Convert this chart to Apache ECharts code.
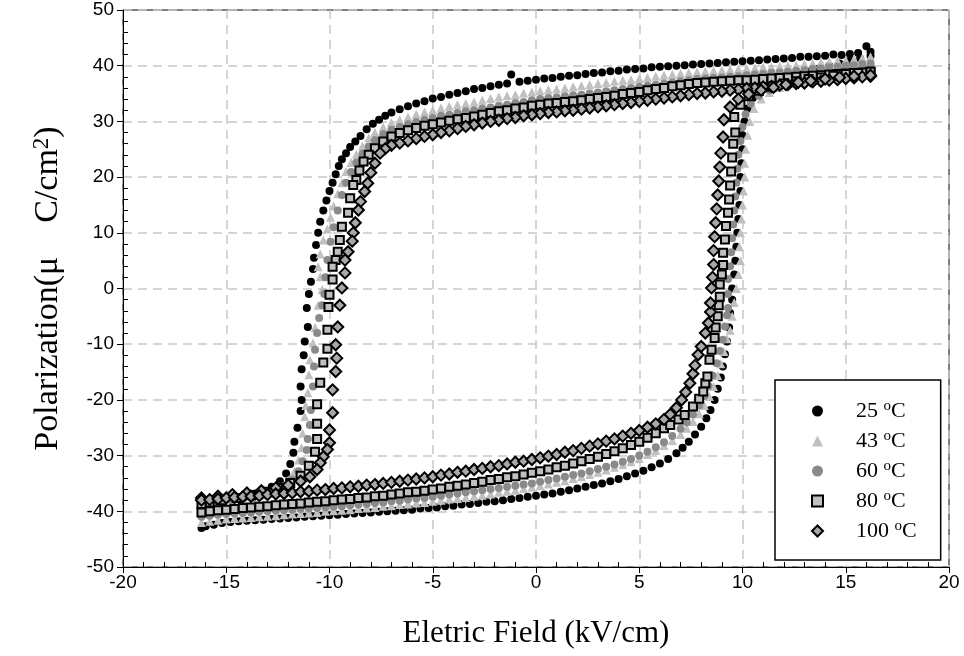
<!DOCTYPE html>
<html>
<head>
<meta charset="utf-8">
<script src="https://cdn.jsdelivr.net/npm/echarts@6/dist/echarts.min.js"></script>
<style>html,body{margin:0;padding:0;background:#fff;}#c{width:964px;height:656px;}</style>
</head>
<body>
<div id="c"></div>
<script>
// ---- data: [E (kV/cm), P (uC/cm2)] ----
const seriesNames = ['25 °C', '43 °C', '60 °C', '80 °C', '100 °C'];
const xTicks = [-20, -15, -10, -5, 0, 5, 10, 15, 20];
const yTicks = [-50, -40, -30, -20, -10, 0, 10, 20, 30, 40, 50];

const up25 = [[16.2,42.5],[16.0,43.5],[15.6,42.3],[15.2,42.1],[14.8,41.9],[14.4,42.0],[14.0,41.8],[13.6,41.7],[13.2,41.6],[12.8,41.6],[12.4,41.4],[12.0,41.3],[11.6,41.2],[11.2,41.1],[10.8,41.0],[10.4,40.9],[10.0,40.8],[9.6,40.7],[9.2,40.6],[8.8,40.5],[8.4,40.4],[8.0,40.3],[7.6,40.2],[7.2,40.1],[6.8,40.0],[6.4,39.9],[6.0,39.8],[5.6,39.7],[5.2,39.5],[4.8,39.4],[4.4,39.3],[4.0,39.1],[3.6,39.0],[3.2,38.8],[2.8,38.7],[2.4,38.5],[2.0,38.3],[1.6,38.2],[1.2,38.0],[0.8,37.8],[0.4,37.7],[0.0,37.5],[-0.4,37.3],[-0.8,37.1],[-1.2,38.4],[-1.4,36.8],[-1.8,36.6],[-2.2,36.3],[-2.6,36.0],[-3.0,35.8],[-3.4,35.4],[-3.8,35.1],[-4.2,34.8],[-4.6,34.4],[-5.0,34.1],[-5.4,33.6],[-5.8,33.2],[-6.2,32.7],[-6.6,32.2],[-7.0,31.6],[-7.3,31.0],[-7.6,30.3],[-7.9,29.6],[-8.2,28.6],[-8.5,27.4],[-8.75,26.4],[-9.0,25.4],[-9.2,24.3],[-9.4,23.2],[-9.55,22.0],[-9.7,20.5],[-9.85,19.0],[-10.0,17.5],[-10.15,15.8],[-10.3,14.0],[-10.45,12.0],[-10.55,10.0],[-10.65,7.8],[-10.75,5.5],[-10.8,3.5],[-10.9,1.2],[-11.0,-1.0],[-11.1,-3.5],[-11.05,-6.9],[-11.2,-9.5],[-11.25,-12.0],[-11.35,-14.5],[-11.4,-17.6],[-11.35,-20.0],[-11.4,-22.0],[-11.55,-25.0],[-11.7,-27.5],[-11.75,-29.5],[-11.9,-31.5],[-12.1,-33.2],[-12.4,-34.6],[-12.8,-35.6],[-13.2,-36.3],[-13.6,-36.8],[-14.0,-37.2],[-14.4,-37.5],[-14.8,-37.8],[-15.2,-38.1],[-15.6,-38.4],[-16.0,-38.6],[-16.2,-38.8]];
const dn25 = [[-16.2,-43.0],[-16.0,-42.7],[-15.6,-42.4],[-15.2,-42.1],[-14.8,-41.9],[-14.4,-41.8],[-14.0,-41.7],[-13.6,-41.6],[-13.2,-41.5],[-12.8,-41.4],[-12.4,-41.3],[-12.0,-41.2],[-11.6,-41.1],[-11.2,-41.0],[-10.8,-40.9],[-10.4,-40.8],[-10.0,-40.7],[-9.6,-40.6],[-9.2,-40.5],[-8.8,-40.4],[-8.4,-40.3],[-8.0,-40.2],[-7.6,-40.1],[-7.2,-40.0],[-6.8,-39.9],[-6.4,-39.8],[-6.0,-39.7],[-5.6,-39.5],[-5.2,-39.4],[-4.8,-39.3],[-4.4,-39.1],[-4.0,-39.0],[-3.6,-38.8],[-3.2,-38.7],[-2.8,-38.5],[-2.4,-38.3],[-2.0,-38.2],[-1.6,-38.0],[-1.2,-37.8],[-0.8,-37.6],[-0.4,-37.4],[0.0,-37.2],[0.4,-37.0],[0.8,-36.8],[1.2,-36.5],[1.6,-36.2],[2.0,-35.9],[2.4,-35.6],[2.8,-35.3],[3.2,-35.0],[3.6,-34.6],[4.0,-34.2],[4.4,-33.7],[4.8,-33.2],[5.2,-32.7],[5.6,-32.1],[6.0,-31.4],[6.4,-30.6],[6.8,-29.6],[7.1,-28.6],[7.4,-27.5],[7.7,-26.2],[8.0,-24.8],[8.25,-23.3],[8.45,-21.8],[8.65,-20.0],[8.8,-18.0],[8.95,-16.0],[9.05,-14.0],[9.15,-11.8],[9.25,-9.5],[9.35,-7.0],[9.4,-4.4],[9.5,-2.0],[9.5,0.0],[9.6,2.5],[9.65,5.0],[9.7,7.5],[9.75,10.0],[9.8,12.5],[9.85,15.0],[9.9,17.5],[9.9,20.0],[9.95,22.5],[10.0,25.0],[10.0,27.5],[10.1,30.0],[10.25,32.3],[10.5,34.2],[10.8,35.5],[11.2,36.5],[11.7,37.3],[12.2,37.9],[12.7,38.5],[13.2,39.0],[13.7,39.5],[14.2,40.0],[14.7,40.4],[15.2,40.9],[15.7,41.3],[16.2,41.8]];

const up43 = [[16.2,41.6],[15.8,41.4],[15.4,41.2],[15.0,41.0],[14.6,40.9],[14.2,40.7],[13.8,40.6],[13.4,40.4],[13.0,40.3],[12.6,40.1],[12.2,40.0],[11.8,39.9],[11.4,39.8],[11.0,39.7],[10.6,39.6],[10.2,39.5],[9.8,39.4],[9.4,39.3],[9.0,39.2],[8.6,39.1],[8.2,39.0],[7.8,38.9],[7.4,38.8],[7.0,38.6],[6.6,38.4],[6.2,38.3],[5.8,38.1],[5.4,37.9],[5.0,37.7],[4.6,37.5],[4.2,37.4],[3.8,37.2],[3.4,37.0],[3.0,36.8],[2.6,36.6],[2.2,36.4],[1.8,36.2],[1.4,36.0],[1.0,35.8],[0.6,35.7],[0.2,35.5],[-0.2,35.3],[-0.6,35.1],[-1.0,34.8],[-1.4,34.6],[-1.8,34.4],[-2.2,34.1],[-2.6,33.8],[-3.0,33.5],[-3.4,33.2],[-3.8,33.0],[-4.2,32.7],[-4.6,32.4],[-5.0,32.0],[-5.4,31.7],[-5.8,31.3],[-6.2,30.8],[-6.6,30.3],[-7.0,29.8],[-7.4,29.0],[-7.8,28.0],[-8.1,27.0],[-8.4,25.6],[-8.7,24.1],[-8.95,22.6],[-9.2,21.0],[-9.4,19.0],[-9.6,17.0],[-9.8,14.8],[-9.95,12.8],[-10.1,10.7],[-10.3,8.7],[-10.45,6.2],[-10.55,3.9],[-10.45,2.1],[-10.35,-0.2],[-10.55,-3.0],[-10.7,-7.0],[-10.8,-9.8],[-10.95,-12.8],[-11.0,-15.5],[-11.05,-18.7],[-11.15,-21.0],[-11.2,-23.0],[-11.3,-26.0],[-11.35,-28.6],[-11.5,-30.8],[-11.7,-32.8],[-12.0,-34.4],[-12.4,-35.6],[-12.8,-36.5],[-13.2,-37.1],[-13.7,-37.6],[-14.2,-38.0],[-14.7,-38.4],[-15.2,-38.8],[-15.7,-39.1],[-16.2,-39.4]];
const dn43 = [[-16.2,-42.0],[-15.8,-41.8],[-15.4,-41.6],[-15.0,-41.4],[-14.6,-41.3],[-14.2,-41.2],[-13.8,-41.1],[-13.4,-41.0],[-13.0,-40.9],[-12.6,-40.8],[-12.2,-40.6],[-11.8,-40.5],[-11.4,-40.4],[-11.0,-40.3],[-10.6,-40.2],[-10.2,-40.0],[-9.8,-39.9],[-9.4,-39.8],[-9.0,-39.7],[-8.6,-39.5],[-8.2,-39.4],[-7.8,-39.3],[-7.4,-39.1],[-7.0,-39.0],[-6.6,-38.8],[-6.2,-38.7],[-5.8,-38.5],[-5.4,-38.4],[-5.0,-38.2],[-4.6,-38.0],[-4.2,-37.8],[-3.8,-37.7],[-3.4,-37.5],[-3.0,-37.3],[-2.6,-37.1],[-2.2,-36.9],[-1.8,-36.6],[-1.4,-36.4],[-1.0,-36.2],[-0.6,-35.9],[-0.2,-35.7],[0.2,-35.4],[0.6,-35.1],[1.0,-34.8],[1.4,-34.5],[1.8,-34.1],[2.2,-33.8],[2.6,-33.4],[3.0,-33.0],[3.4,-32.6],[3.8,-32.1],[4.2,-31.6],[4.6,-31.1],[5.0,-30.5],[5.4,-29.8],[5.8,-29.1],[6.2,-28.2],[6.6,-27.3],[7.0,-26.2],[7.3,-25.1],[7.6,-23.9],[7.9,-22.5],[8.15,-21.0],[8.4,-19.4],[8.6,-17.6],[8.8,-15.6],[8.95,-13.5],[9.1,-11.3],[9.25,-9.0],[9.4,-7.5],[9.5,-5.0],[9.6,-2.5],[9.7,0.0],[9.8,2.5],[9.9,5.0],[9.85,7.5],[9.9,10.0],[9.95,12.5],[10.0,15.0],[10.05,17.5],[10.1,20.0],[10.1,22.5],[10.15,25.0],[10.25,27.5],[10.35,30.0],[10.55,32.3],[10.9,34.0],[11.3,35.2],[11.8,36.1],[12.3,36.8],[12.8,37.4],[13.3,37.9],[13.8,38.4],[14.3,38.9],[14.8,39.4],[15.3,39.8],[15.8,40.3],[16.2,40.7]];

const up60 = [[16.2,40.4],[15.8,40.3],[15.4,40.1],[15.0,40.0],[14.6,39.8],[14.2,39.7],[13.8,39.5],[13.4,39.4],[13.0,39.2],[12.6,39.1],[12.2,38.9],[11.8,38.8],[11.4,38.7],[11.0,38.5],[10.6,38.4],[10.2,38.3],[9.8,38.1],[9.4,38.0],[9.0,37.9],[8.6,37.8],[8.2,37.7],[7.8,37.6],[7.4,37.4],[7.0,37.2],[6.6,37.0],[6.2,36.8],[5.8,36.6],[5.4,36.4],[5.0,36.2],[4.6,36.0],[4.2,35.8],[3.8,35.6],[3.4,35.4],[3.0,35.2],[2.6,35.0],[2.2,34.8],[1.8,34.7],[1.4,34.5],[1.0,34.3],[0.6,34.2],[0.2,34.0],[-0.2,33.8],[-0.6,33.5],[-1.0,33.3],[-1.4,33.0],[-1.8,32.8],[-2.2,32.5],[-2.6,32.3],[-3.0,32.0],[-3.4,31.8],[-3.8,31.5],[-4.2,31.2],[-4.6,31.0],[-5.0,30.6],[-5.4,30.3],[-5.8,29.9],[-6.2,29.5],[-6.6,29.0],[-7.0,28.5],[-7.4,27.7],[-7.8,26.6],[-8.1,25.5],[-8.4,24.2],[-8.7,22.6],[-8.95,20.9],[-9.2,19.0],[-9.4,16.8],[-9.6,14.0],[-9.8,11.0],[-9.95,8.4],[-10.1,5.1],[-10.2,2.0],[-10.25,-1.0],[-10.35,-3.0],[-10.5,-5.3],[-10.6,-8.0],[-10.7,-11.0],[-10.75,-14.0],[-10.8,-17.6],[-10.9,-21.8],[-10.95,-24.5],[-11.05,-27.0],[-11.1,-29.0],[-11.3,-31.0],[-11.5,-32.8],[-11.8,-34.3],[-12.2,-35.5],[-12.7,-36.4],[-13.2,-37.0],[-13.7,-37.5],[-14.2,-37.9],[-14.7,-38.3],[-15.2,-38.6],[-15.7,-38.9],[-16.2,-39.2]];
const dn60 = [[-16.2,-41.0],[-15.8,-40.8],[-15.4,-40.6],[-15.0,-40.5],[-14.6,-40.4],[-14.2,-40.3],[-13.8,-40.2],[-13.4,-40.1],[-13.0,-40.0],[-12.6,-39.9],[-12.2,-39.8],[-11.8,-39.7],[-11.4,-39.6],[-11.0,-39.5],[-10.6,-39.4],[-10.2,-39.3],[-9.8,-39.2],[-9.4,-39.1],[-9.0,-38.9],[-8.6,-38.8],[-8.2,-38.7],[-7.8,-38.5],[-7.4,-38.4],[-7.0,-38.2],[-6.6,-38.1],[-6.2,-37.9],[-5.8,-37.7],[-5.4,-37.6],[-5.0,-37.4],[-4.6,-37.2],[-4.2,-37.0],[-3.8,-36.8],[-3.4,-36.6],[-3.0,-36.4],[-2.6,-36.2],[-2.2,-36.0],[-1.8,-35.8],[-1.4,-35.6],[-1.0,-35.4],[-0.6,-35.2],[-0.2,-35.0],[0.2,-34.7],[0.6,-34.4],[1.0,-34.1],[1.4,-33.8],[1.8,-33.5],[2.2,-33.2],[2.6,-32.8],[3.0,-32.4],[3.4,-32.0],[3.8,-31.6],[4.2,-31.1],[4.6,-30.6],[5.0,-30.0],[5.4,-29.3],[5.8,-28.5],[6.2,-27.6],[6.6,-26.5],[7.0,-25.2],[7.3,-24.0],[7.6,-22.6],[7.9,-21.0],[8.15,-19.3],[8.35,-17.5],[8.55,-15.6],[8.75,-13.4],[8.9,-11.2],[9.05,-9.2],[9.15,-6.8],[9.25,-4.8],[9.3,-3.5],[9.3,-1.0],[9.3,1.7],[9.4,4.0],[9.45,6.5],[9.5,9.0],[9.55,11.5],[9.6,14.0],[9.65,16.5],[9.7,19.0],[9.75,21.5],[9.8,24.0],[9.9,26.5],[10.0,29.0],[10.15,31.3],[10.4,33.2],[10.8,34.6],[11.3,35.6],[11.8,36.3],[12.3,36.9],[12.8,37.4],[13.3,37.8],[13.8,38.2],[14.3,38.6],[14.8,38.9],[15.3,39.3],[15.8,39.6],[16.2,39.9]];

const up80 = [[16.2,38.9],[15.8,38.8],[15.4,38.7],[15.0,38.6],[14.6,38.5],[14.2,38.4],[13.8,38.3],[13.4,38.2],[13.0,38.1],[12.6,38.0],[12.2,37.9],[11.8,37.8],[11.4,37.7],[11.0,37.6],[10.6,37.5],[10.2,37.4],[9.8,37.4],[9.4,37.3],[9.0,37.2],[8.6,37.1],[8.2,37.0],[7.8,36.9],[7.4,36.7],[7.0,36.5],[6.6,36.3],[6.2,36.0],[5.8,35.8],[5.4,35.6],[5.0,35.3],[4.6,35.1],[4.2,34.9],[3.8,34.6],[3.4,34.4],[3.0,34.2],[2.6,34.0],[2.2,33.8],[1.8,33.6],[1.4,33.5],[1.0,33.3],[0.6,33.2],[0.2,33.0],[-0.2,32.8],[-0.6,32.5],[-1.0,32.3],[-1.4,32.0],[-1.8,31.8],[-2.2,31.5],[-2.6,31.2],[-3.0,30.9],[-3.4,30.6],[-3.8,30.4],[-4.2,30.1],[-4.6,29.8],[-5.0,29.5],[-5.4,29.2],[-5.8,28.8],[-6.2,28.4],[-6.6,27.9],[-7.0,27.3],[-7.4,26.4],[-7.8,25.2],[-8.1,24.0],[-8.35,22.8],[-8.55,21.2],[-8.7,19.5],[-8.85,18.6],[-9.0,16.2],[-9.1,13.6],[-9.4,11.1],[-9.5,8.7],[-9.6,6.6],[-9.7,5.1],[-9.85,3.9],[-9.85,1.6],[-10.0,-1.1],[-10.05,-3.3],[-10.1,-7.4],[-10.1,-10.8],[-10.3,-13.3],[-10.45,-16.9],[-10.6,-20.8],[-10.6,-24.3],[-10.6,-27.0],[-10.7,-29.3],[-11.0,-31.8],[-11.4,-33.6],[-11.9,-34.9],[-12.5,-35.8],[-13.1,-36.5],[-13.8,-37.1],[-14.5,-37.6],[-15.2,-38.0],[-15.8,-38.4],[-16.2,-38.7]];
const dn80 = [[-16.2,-40.2],[-15.8,-40.0],[-15.4,-39.8],[-15.0,-39.7],[-14.6,-39.6],[-14.2,-39.4],[-13.8,-39.3],[-13.4,-39.2],[-13.0,-39.1],[-12.6,-38.9],[-12.2,-38.8],[-11.8,-38.7],[-11.4,-38.6],[-11.0,-38.4],[-10.6,-38.3],[-10.2,-38.2],[-9.8,-38.0],[-9.4,-37.9],[-9.0,-37.8],[-8.6,-37.6],[-8.2,-37.5],[-7.8,-37.3],[-7.4,-37.2],[-7.0,-37.0],[-6.6,-36.8],[-6.2,-36.6],[-5.8,-36.5],[-5.4,-36.3],[-5.0,-36.1],[-4.6,-35.9],[-4.2,-35.6],[-3.8,-35.4],[-3.4,-35.2],[-3.0,-34.9],[-2.6,-34.7],[-2.2,-34.4],[-1.8,-34.2],[-1.4,-33.9],[-1.0,-33.7],[-0.6,-33.4],[-0.2,-33.1],[0.2,-32.8],[0.6,-32.5],[1.0,-32.1],[1.4,-31.8],[1.8,-31.4],[2.2,-31.0],[2.6,-30.6],[3.0,-30.2],[3.4,-29.7],[3.8,-29.2],[4.2,-28.7],[4.6,-28.1],[5.0,-27.5],[5.4,-26.8],[5.8,-26.0],[6.2,-25.1],[6.5,-24.5],[6.9,-23.5],[7.2,-22.7],[7.6,-21.2],[7.9,-19.8],[8.1,-18.5],[8.2,-17.0],[8.3,-15.8],[8.4,-12.8],[8.5,-11.0],[8.65,-8.9],[8.7,-7.0],[8.8,-5.0],[8.85,-3.0],[8.9,-1.5],[8.9,0.7],[9.0,2.5],[9.06,4.2],[9.06,6.4],[9.15,8.8],[9.2,11.2],[9.3,13.6],[9.35,16.0],[9.4,18.5],[9.45,21.0],[9.5,23.5],[9.55,26.0],[9.65,28.0],[9.6,30.8],[9.9,33.0],[10.3,34.5],[10.8,35.5],[11.4,36.2],[12.0,36.8],[12.6,37.2],[13.2,37.6],[13.8,37.9],[14.4,38.2],[15.0,38.5],[15.6,38.7],[16.2,38.9]];

const up100 = [[16.2,38.1],[15.8,38.0],[15.4,37.8],[15.0,37.7],[14.6,37.5],[14.2,37.4],[13.8,37.2],[13.4,37.1],[13.0,36.9],[12.6,36.8],[12.2,36.6],[11.8,36.5],[11.4,36.3],[11.0,36.2],[10.6,36.0],[10.2,35.9],[9.8,35.7],[9.4,35.6],[9.0,35.4],[8.6,35.3],[8.2,35.1],[7.8,35.0],[7.4,34.8],[7.0,34.6],[6.6,34.4],[6.2,34.2],[5.8,34.0],[5.4,33.8],[5.0,33.6],[4.6,33.4],[4.2,33.2],[3.8,33.0],[3.4,32.8],[3.0,32.6],[2.6,32.4],[2.2,32.2],[1.8,32.0],[1.4,31.9],[1.0,31.7],[0.6,31.6],[0.2,31.4],[-0.2,31.2],[-0.6,31.0],[-1.0,30.7],[-1.4,30.5],[-1.8,30.2],[-2.2,30.0],[-2.6,29.7],[-3.0,29.4],[-3.4,29.1],[-3.8,28.7],[-4.2,28.3],[-4.6,28.0],[-5.0,27.6],[-5.4,27.3],[-5.8,26.9],[-6.2,26.5],[-6.6,26.1],[-7.0,25.7],[-7.3,25.1],[-7.55,24.3],[-7.8,22.5],[-8.0,20.8],[-8.15,18.9],[-8.3,17.4],[-8.5,15.6],[-8.6,14.1],[-8.75,11.8],[-8.85,10.0],[-8.9,8.5],[-9.1,6.6],[-9.25,5.1],[-9.25,2.8],[-9.4,0.1],[-9.5,-3.0],[-9.6,-6.9],[-9.7,-10.1],[-9.65,-12.5],[-9.7,-14.9],[-9.85,-18.2],[-9.85,-22.3],[-10.0,-25.4],[-10.0,-27.7],[-10.1,-28.9],[-10.3,-30.2],[-10.45,-31.3],[-10.6,-32.5],[-10.95,-33.8],[-11.4,-34.6],[-12.0,-35.3],[-12.6,-35.8],[-13.3,-36.3],[-14.0,-36.7],[-14.7,-37.0],[-15.4,-37.3],[-16.2,-37.6]];
const dn100 = [[-16.2,-38.0],[-15.8,-37.9],[-15.4,-37.8],[-15.0,-37.6],[-14.6,-37.5],[-14.2,-37.4],[-13.8,-37.3],[-13.4,-37.2],[-13.0,-37.0],[-12.6,-36.9],[-12.2,-36.8],[-11.8,-36.7],[-11.4,-36.5],[-11.0,-36.4],[-10.6,-36.2],[-10.2,-36.1],[-9.8,-35.9],[-9.4,-35.8],[-9.0,-35.6],[-8.6,-35.5],[-8.2,-35.3],[-7.8,-35.2],[-7.4,-35.0],[-7.0,-34.8],[-6.6,-34.6],[-6.2,-34.4],[-5.8,-34.2],[-5.4,-34.0],[-5.0,-33.8],[-4.6,-33.5],[-4.2,-33.3],[-3.8,-33.0],[-3.4,-32.8],[-3.0,-32.5],[-2.6,-32.3],[-2.2,-32.0],[-1.8,-31.8],[-1.4,-31.5],[-1.0,-31.2],[-0.6,-31.0],[-0.2,-30.7],[0.2,-30.4],[0.6,-30.1],[1.0,-29.8],[1.4,-29.4],[1.8,-29.1],[2.2,-28.7],[2.6,-28.3],[3.0,-27.9],[3.4,-27.4],[3.8,-27.0],[4.2,-26.5],[4.6,-26.0],[5.0,-25.5],[5.4,-24.9],[5.8,-24.3],[6.2,-23.5],[6.5,-22.6],[6.8,-21.4],[7.05,-20.0],[7.25,-18.6],[7.45,-17.0],[7.6,-15.3],[7.7,-13.8],[7.85,-11.9],[8.0,-10.4],[8.2,-8.0],[8.35,-6.2],[8.45,-4.2],[8.45,-2.6],[8.5,0.1],[8.55,2.0],[8.6,4.3],[8.6,6.8],[8.65,9.3],[8.7,11.8],[8.75,14.3],[8.8,16.8],[8.85,19.3],[8.9,21.8],[8.95,24.3],[9.06,27.2],[9.1,30.3],[9.4,32.6],[9.8,34.0],[10.3,34.9],[10.9,35.6],[11.5,36.1],[12.1,36.6],[12.7,37.0],[13.3,37.3],[14.0,37.6],[14.7,37.9],[15.4,38.1],[16.2,38.3]];

// ---- chart ----
const chart = echarts.init(document.getElementById('c'), null, {renderer: 'canvas'});
const G = {left: 123, right: 15, top: 10, bottom: 89};
const tickFont = {fontFamily: 'Liberation Sans', fontSize: 19, color: '#000'};
const serif = 'Liberation Serif';

function mkSeries(name, data, symbol, size, color, border) {
  return {
    name: name, type: 'scatter', xAxisIndex: 0, yAxisIndex: 0,
    data: data, symbol: symbol, symbolSize: size,
    itemStyle: {color: color, borderColor: border ? '#000' : color, borderWidth: border ? 2 : 0, opacity: 1},
    emphasis: {disabled: true}, animation: false
  };
}

const option = {
  animation: false,
  backgroundColor: '#fff',
  grid: [
    Object.assign({show: true, borderColor: '#000', borderWidth: 1, backgroundColor: 'transparent'}, G),
    Object.assign({show: false}, G)
  ],
  xAxis: [
    {type: 'value', gridIndex: 0, min: xTicks[0], max: xTicks[xTicks.length - 1], interval: 5,
     axisLine: {show: true, onZero: false, lineStyle: {color: '#000', width: 1}},
     axisTick: {show: true, inside: false, length: 6, lineStyle: {color: '#000'}},
     minorTick: {show: false},
     axisLabel: Object.assign({margin: 6}, tickFont),
     splitLine: {show: true, lineStyle: {color: '#c8c8c8', width: 1.5, type: [9, 6]}},
     name: 'Eletric Field (kV/cm)', nameLocation: 'middle', nameGap: 51,
     nameTextStyle: {fontFamily: serif, fontSize: 31, color: '#000'}},
    {type: 'value', gridIndex: 1, min: -20, max: 20, interval: 5, position: 'bottom',
     axisLine: {show: false, onZero: false}, axisTick: {show: false, inside: true},
     minorTick: {show: true, splitNumber: 5, length: 5, lineStyle: {color: '#000', width: 1}},
     axisLabel: {show: false}, splitLine: {show: false}}
  ],
  yAxis: [
    {type: 'value', gridIndex: 0, min: yTicks[0], max: yTicks[yTicks.length - 1], interval: 10,
     axisLine: {show: true, onZero: false, lineStyle: {color: '#000', width: 1}},
     axisTick: {show: true, inside: false, length: 6, lineStyle: {color: '#000'}},
     minorTick: {show: false},
     axisLabel: Object.assign({margin: 9}, tickFont),
     splitLine: {show: true, lineStyle: {color: '#c8c8c8', width: 1.5, type: [9, 6]}},
     name: 'Polarization(\u03bc    C/cm{sup|2})', nameLocation: 'middle', nameGap: 57, nameRotate: 90,
     nameTextStyle: {fontFamily: serif, fontSize: 34, color: '#000', lineHeight: 36,
       rich: {sup: {fontFamily: serif, fontSize: 23, color: '#000', verticalAlign: 'top', lineHeight: 19}}}},
    {type: 'value', gridIndex: 1, min: -50, max: 50, interval: 10, position: 'left',
     axisLine: {show: false, onZero: false}, axisTick: {show: false, inside: true},
     minorTick: {show: true, splitNumber: 5, length: 5, lineStyle: {color: '#000', width: 1}},
     axisLabel: {show: false}, splitLine: {show: false}}
  ],
  legend: {
    show: true, orient: 'vertical', left: 775, top: 380,
    padding: [19, 24, 17, 36], itemGap: 6, itemWidth: 11, itemHeight: 11,
    backgroundColor: '#fff', borderColor: '#000', borderWidth: 1.5, borderRadius: 0,
    data: seriesNames,
    selectedMode: false,
    formatter: function (n) { return n.replace('°', '{sup|o}'); },
    textStyle: {fontFamily: serif, fontSize: 22, color: '#000', padding: [0, 0, 0, 28], lineHeight: 24,
      rich: {sup: {fontFamily: serif, fontSize: 15, color: '#000', verticalAlign: 'top', lineHeight: 14}}}
  },
  series: [
    mkSeries(seriesNames[0], up25.concat(dn25), 'circle', 8, '#000000', false),
    mkSeries(seriesNames[1], up43.concat(dn43), 'triangle', 9, '#c0c0c0', false),
    mkSeries(seriesNames[2], up60.concat(dn60), 'circle', 8, '#8a8a8a', false),
    mkSeries(seriesNames[3], up80.concat(dn80), 'rect', 8, '#c0c0c0', true),
    mkSeries(seriesNames[4], up100.concat(dn100), 'diamond', 11, '#a8a8a8', true)
  ]
};
chart.setOption(option);
</script>
</body>
</html>
